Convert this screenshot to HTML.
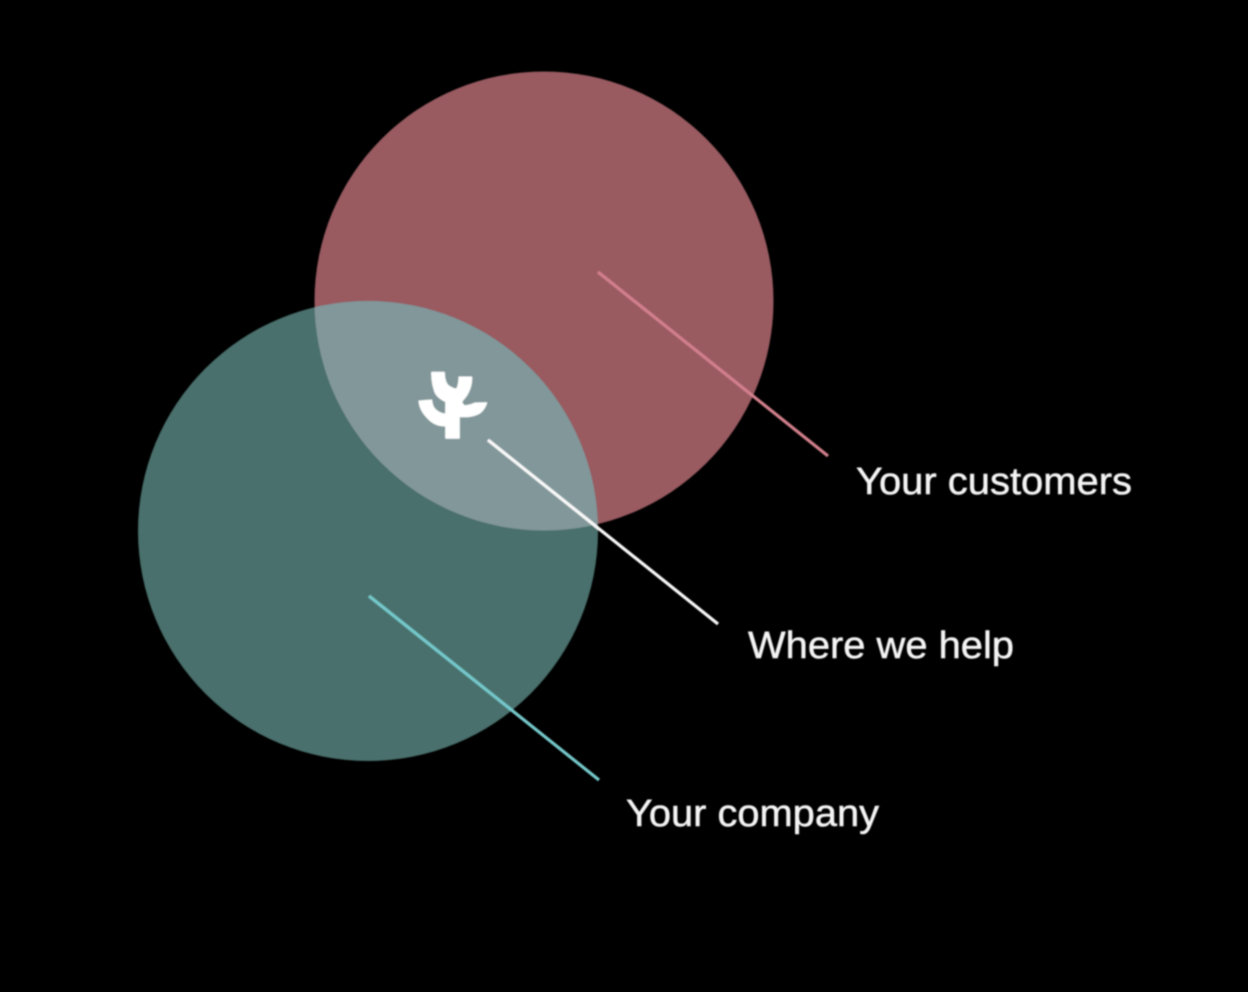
<!DOCTYPE html>
<html>
<head>
<meta charset="utf-8">
<style>
html,body{margin:0;padding:0;background:#000;width:1248px;height:992px;overflow:hidden}
svg{display:block}
text{font-family:"Liberation Sans",sans-serif;font-size:38px;fill:#f4f4f4;stroke:#f4f4f4;stroke-width:0.5px}
</style>
</head>
<body>
<svg width="1248" height="992" viewBox="0 0 1248 992" xmlns="http://www.w3.org/2000/svg">
<defs>
<clipPath id="c"><circle cx="544" cy="301" r="229.500"/></clipPath>
<filter id="b" x="-5%" y="-5%" width="110%" height="110%"><feGaussianBlur stdDeviation="0.7"/></filter>
</defs>
<rect width="1248" height="992" fill="#000"/>
<g filter="url(#b)">
<circle cx="544" cy="301" r="229.500" fill="#995a61"/>
<circle cx="368" cy="531" r="230" fill="#48706c"/>
<circle cx="368" cy="531" r="230" fill="#82979a" clip-path="url(#c)"/>
<line x1="598" y1="272" x2="828" y2="456" stroke="#d17f8b" stroke-width="3.200"/>
<line x1="488" y1="440" x2="718" y2="624" stroke="#f8f8f8" stroke-width="3.200"/>
<line x1="369" y1="596" x2="599" y2="780" stroke="#74c8ca" stroke-width="3.200"/>
<path d="M431.700 372.300 L444.300 372.300 C444.500 379 446 384 449 386 C452 388 455 389 456.700 389 C458 386 459 382 459 377 L471.700 377 C472 384 470 390 467 395 C465 398 463 400 461.700 401.700 C462.500 404 464 405.700 465 405.700 C469 405.500 473 404 475 403 L486.700 402.700 C485.500 407 483 410.500 480 413 C474 416.700 467 417 459.300 416.700 L459.300 438.300 L445.700 438.300 L445.700 426 C439 426 433 423.500 429 419.500 C423 414 419.500 408 419 401 L431.700 400 C432 404 433.500 408 436 410 C439 412.500 442.500 414 445.700 414 L445.700 401.700 C440 399 436 396 434.500 391 C432.500 385 431.500 379 431.700 372.300 Z" fill="#fff" stroke="#fff" stroke-width="1" stroke-linejoin="round"/>
<text x="856" y="494" textLength="276" lengthAdjust="spacingAndGlyphs">Your customers</text>
<text x="748" y="658" textLength="266" lengthAdjust="spacingAndGlyphs">Where we help</text>
<text x="626" y="826" textLength="253" lengthAdjust="spacingAndGlyphs">Your company</text>
</g>
</svg>
</body>
</html>
